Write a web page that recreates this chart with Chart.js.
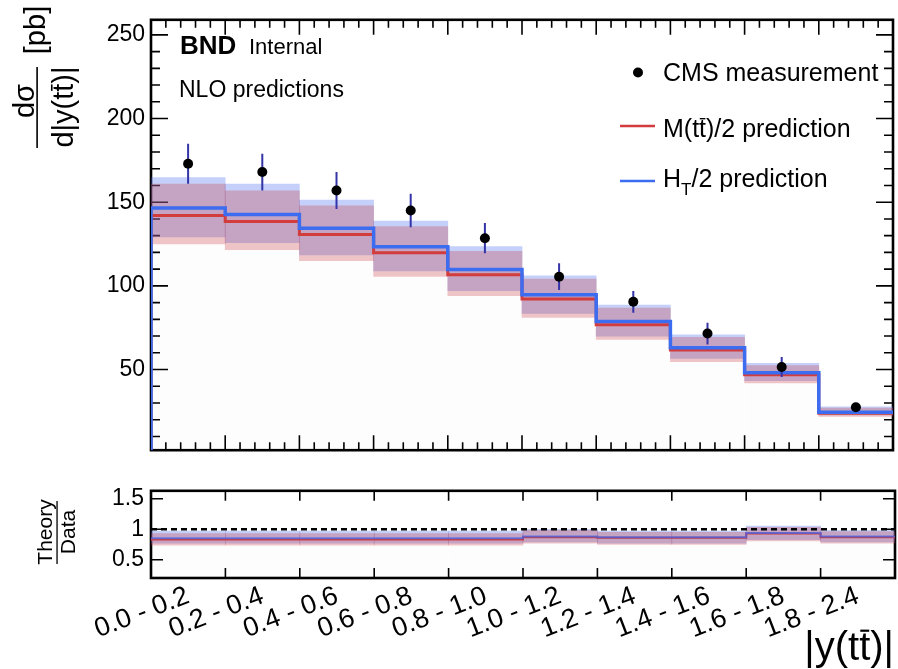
<!DOCTYPE html>
<html lang="en">
<head>
<meta charset="UTF-8">
<title>|y(tt)| differential cross section</title>
<script src="https://cdn.jsdelivr.net/npm/chart.js@4.4.0/dist/chart.umd.min.js"></script>
<style>
  html, body { margin: 0; padding: 0; background: #fff; }
  #wrap { position: relative; width: 898px; height: 669px; overflow: hidden; }
  #wrap canvas { position: absolute; left: 0; }
  #mainCanvas { top: 0; }
  #ratioCanvas { top: 470px; }
</style>
</head>
<body>
<div id="wrap">
  <canvas id="mainCanvas" width="898" height="470"></canvas>
  <canvas id="ratioCanvas" width="898" height="199"></canvas>
</div>
<script>
// |y(tt)| bins
const binLabels = ['0.0 - 0.2', '0.2 - 0.4', '0.4 - 0.6', '0.6 - 0.8', '0.8 - 1.0',
                   '1.0 - 1.2', '1.2 - 1.4', '1.4 - 1.6', '1.6 - 1.8', '1.8 - 2.4'];

// CMS measurement [pb]
const cmsValues = [173, 168, 157, 145, 128.5, 105.5, 90.5, 71.5, 51.5, 27.5];
const cmsErrors = [12, 11, 11, 10, 9, 8, 6.5, 6.5, 6, 2.5];

// NLO, scale M(tt)/2
const mttCentral = [142, 138.5, 130.7, 119.8, 106.7, 92.2, 76.7, 61.7, 46.9, 23.9];
const mttUp      = [160.9, 156.8, 147.9, 135.5, 120.7, 104.1, 86.8, 69.2, 52.4, 26.9];
const mttDown    = [125.1, 121.7, 115.1, 105.6, 94.1, 81.1, 68, 54.7, 42, 22];

// NLO, scale HT/2
const htCentral = [146.6, 142.6, 134.5, 123.4, 109.8, 94.7, 78.7, 63, 48.1, 24.5];
const htUp      = [164.7, 160.8, 151.3, 138.7, 123.5, 106, 88.5, 70.8, 53.7, 27.7];
const htDown    = [129.2, 125.8, 118.5, 109, 97.1, 83.5, 70, 56.6, 43.3, 22.9];

// theory / data
const ratioMtt     = [0.83, 0.83, 0.83, 0.83, 0.83, 0.87, 0.86, 0.86, 0.93, 0.87];
const ratioMttUp   = [0.93, 0.93, 0.93, 0.93, 0.93, 0.98, 0.95, 0.95, 1.03, 0.96];
const ratioMttDown = [0.74, 0.74, 0.74, 0.74, 0.74, 0.77, 0.75, 0.75, 0.81, 0.77];
const ratioHt      = [0.85, 0.85, 0.85, 0.85, 0.85, 0.88, 0.87, 0.87, 0.94, 0.88];
const ratioHtUp    = [0.97, 0.97, 0.97, 0.97, 0.97, 1.0, 0.97, 0.97, 1.05, 0.98];
const ratioHtDown  = [0.77, 0.77, 0.77, 0.77, 0.77, 0.79, 0.77, 0.77, 0.83, 0.79];

// axes
const mainTicks = [50, 100, 150, 200, 250];
const mainTickLabels = ['50', '100', '150', '200', '250'];
const ratioTicks = [0.5, 1, 1.5];
const ratioTickLabels = ['0.5', '1', '1.5'];
const mainMin = 1.8, mainMax = 259;
const ratioMin = 0.2, ratioMax = 1.63;
const unity = 1;

const FONT = "'Liberation Sans', Arial, Helvetica, sans-serif";
Chart.defaults.font.family = FONT;
Chart.defaults.color = '#000';

const RED = '#d23c3c';
const BLUE = '#3c6cf0';
const RED_BAND = 'rgba(200, 60, 70, 0.30)';
const BLUE_BAND = 'rgba(70, 110, 235, 0.32)';
const FILL = 'rgba(0, 0, 0, 0.007)';

function bandData(lo, hi) {
  return lo.map((v, i) => ({ x: i + 0.5, y: [v, hi[i]] }));
}
// histogram outline: one point per lower bin edge plus the closing edge
function stepData(vals, floor) {
  const pts = floor === undefined ? [] : [{ x: 0, y: floor }];
  vals.forEach((v, i) => pts.push({ x: i, y: v }));
  pts.push({ x: vals.length, y: vals[vals.length - 1] });
  return pts;
}
const centerTicks = s => { s.ticks = binLabels.map((_, i) => ({ value: i + 0.5 })); };

// text runs with overlines / subscripts
function rich(ctx, pieces, x, y, size, align) {
  const fontOf = p => `${p.bold ? 'bold ' : ''}${p.sub ? Math.round(size * 0.68) : size}px ${FONT}`;
  const ws = pieces.map(p => { ctx.font = fontOf(p); return ctx.measureText(p.t).width; });
  const total = ws.reduce((s, w) => s + w, 0);
  let cx = align === 'right' ? x - total : align === 'center' ? x - total / 2 : x;
  ctx.textAlign = 'left';
  ctx.textBaseline = 'alphabetic';
  pieces.forEach((p, i) => {
    ctx.font = fontOf(p);
    ctx.fillText(p.t, cx, y + (p.sub ? size * 0.3 : 0));
    if (p.bar) ctx.fillRect(cx + ws[i] * 0.1, y - size * 0.76, ws[i] * 0.8, Math.max(1.3, size * 0.055));
    cx += ws[i];
  });
}
function richRot(ctx, pieces, baseX, centerY, size) {
  ctx.save();
  ctx.translate(baseX, centerY);
  ctx.rotate(-Math.PI / 2);
  rich(ctx, pieces, 0, 0, size, 'center');
  ctx.restore();
}

// frame with inward ticks on all four sides
const frameTicks = {
  id: 'frameTicks',
  beforeDatasetsDraw(chart, args, o) {
    const { ctx, chartArea: a } = chart;
    const xs = chart.scales.x, ys = chart.scales.y;
    ctx.save();
    ctx.strokeStyle = '#000';
    ctx.lineWidth = 1.6;
    ctx.beginPath();
    const xMark = (v, len) => {
      const px = xs.getPixelForValue(v);
      ctx.moveTo(px, a.bottom); ctx.lineTo(px, a.bottom - len);
      ctx.moveTo(px, a.top); ctx.lineTo(px, a.top + len);
    };
    const yMark = (v, len) => {
      const py = ys.getPixelForValue(v);
      ctx.moveTo(a.left, py); ctx.lineTo(a.left + len, py);
      ctx.moveTo(a.right, py); ctx.lineTo(a.right - len, py);
    };
    for (let e = 0; e <= binLabels.length; e++) xMark(e, o.xMajorLen);
    if (o.xMinorLen) {
      for (let e = 0; e < binLabels.length; e++) for (let k = 1; k < 5; k++) xMark(e + k / 5, o.xMinorLen);
    }
    o.yMajor.forEach(v => yMark(v, o.yMajorLen));
    (o.yMinor || []).forEach(v => yMark(v, o.yMinorLen));
    ctx.stroke();
    ctx.lineWidth = 2.6;
    ctx.strokeRect(a.left, a.top, a.right - a.left, a.bottom - a.top);
    ctx.restore();
  }
};

// vertical uncertainty bars under the measurement markers
const errorBars = {
  id: 'errorBars',
  beforeDatasetDraw(chart, args) {
    if (chart.data.datasets[args.index].label !== 'CMS measurement') return;
    const { ctx } = chart;
    const xs = chart.scales.x, ys = chart.scales.y;
    ctx.save();
    ctx.strokeStyle = '#3434a8';
    ctx.lineWidth = 2;
    ctx.beginPath();
    cmsValues.forEach((v, i) => {
      const px = xs.getPixelForValue(i + 0.5);
      ctx.moveTo(px, ys.getPixelForValue(v - cmsErrors[i]));
      ctx.lineTo(px, ys.getPixelForValue(v + cmsErrors[i]));
    });
    ctx.stroke();
    ctx.restore();
  }
};

const mainText = {
  id: 'mainText',
  afterDraw(chart) {
    const ctx = chart.ctx;
    ctx.save();
    ctx.fillStyle = '#000';
    ctx.strokeStyle = '#000';
    rich(ctx, [{ t: 'BND', bold: true }], 180, 54, 26);
    rich(ctx, [{ t: 'Internal' }], 249, 54, 22);
    rich(ctx, [{ t: 'NLO predictions' }], 179, 97, 23);

    // legend
    ctx.beginPath();
    ctx.arc(638, 72.5, 5, 0, Math.PI * 2);
    ctx.fill();
    rich(ctx, [{ t: 'CMS measurement' }], 663, 81, 25);
    ctx.lineWidth = 2.5;
    ctx.strokeStyle = RED;
    ctx.beginPath(); ctx.moveTo(620, 126); ctx.lineTo(655, 126); ctx.stroke();
    ctx.strokeStyle = BLUE;
    ctx.beginPath(); ctx.moveTo(620, 181); ctx.lineTo(655, 181); ctx.stroke();
    rich(ctx, [{ t: 'M(t' }, { t: 't', bar: true }, { t: ')/2 prediction' }], 663, 137, 25);
    rich(ctx, [{ t: 'H' }, { t: 'T', sub: true }, { t: '/2 prediction' }], 663, 187, 25);

    // y title: dsigma / d|y(tt)| [pb]
    richRot(ctx, [{ t: 'dσ' }], 34, 101, 29);
    ctx.fillRect(36.3, 67, 1.6, 81);
    richRot(ctx, [{ t: 'd|y(t' }, { t: 't', bar: true }, { t: ')|' }], 73, 107, 29);
    richRot(ctx, [{ t: '[pb]' }], 45, 30, 29);
    ctx.restore();
  }
};

const ratioText = {
  id: 'ratioText',
  afterDraw(chart) {
    const ctx = chart.ctx;
    ctx.save();
    ctx.fillStyle = '#000';
    richRot(ctx, [{ t: 'Theory' }], 52, 62, 21);
    ctx.fillRect(56.4, 31, 1.3, 63);
    richRot(ctx, [{ t: 'Data' }], 75, 62, 21);
    rich(ctx, [{ t: '|y(t' }, { t: 't', bar: true }, { t: ')|' }], 894, 190, 40, 'right');
    ctx.restore();
  }
};

const barBase = { grouped: false, barPercentage: 1, categoryPercentage: 1 };

new Chart(document.getElementById('mainCanvas'), {
  data: {
    datasets: [
      { ...barBase, type: 'bar', label: 'fill', data: bandData(binLabels.map(() => mainMin), mttDown),
        backgroundColor: FILL, order: 6 },
      { ...barBase, type: 'bar', label: 'HT band', data: bandData(htDown, htUp),
        backgroundColor: BLUE_BAND, order: 5 },
      { ...barBase, type: 'bar', label: 'Mtt band', data: bandData(mttDown, mttUp),
        backgroundColor: RED_BAND, order: 4 },
      { type: 'line', label: 'M(tt)/2 prediction', data: stepData(mttCentral, mainMin), stepped: true,
        borderColor: RED, borderWidth: 3, pointRadius: 0, fill: false, order: 3 },
      { type: 'line', label: 'HT/2 prediction', data: stepData(htCentral, mainMin), stepped: true,
        borderColor: BLUE, borderWidth: 3.5, pointRadius: 0, fill: false, order: 2 },
      { type: 'scatter', label: 'CMS measurement', data: cmsValues.map((v, i) => ({ x: i + 0.5, y: v })),
        backgroundColor: '#000', borderWidth: 0, pointRadius: 5, order: 1 }
    ]
  },
  options: {
    responsive: false,
    animation: false,
    layout: { padding: { left: 0, top: 11, right: 3, bottom: 5 } },
    scales: {
      x: { type: 'linear', min: 0, max: binLabels.length, offset: false, display: false,
           afterBuildTicks: centerTicks },
      y: {
        type: 'linear', min: mainMin, max: mainMax,
        afterBuildTicks: s => { s.ticks = mainTicks.map(v => ({ value: v })); },
        afterFit: s => { s.width = 151; },
        ticks: { callback: (v, i) => mainTickLabels[i], font: { size: 23 }, color: '#000', padding: 6 },
        grid: { display: false, drawTicks: false },
        border: { display: false }
      }
    },
    plugins: {
      legend: { display: false },
      tooltip: { enabled: false },
      frameTicks: {
        xMajorLen: 15, xMinorLen: 8, yMajorLen: 17, yMinorLen: 9,
        yMajor: mainTicks,
        yMinor: Array.from({ length: 25 }, (_, k) => 10 * (k + 1)).filter(v => v % 50 !== 0)
      }
    }
  },
  plugins: [frameTicks, errorBars, mainText]
});

new Chart(document.getElementById('ratioCanvas'), {
  data: {
    datasets: [
      { ...barBase, type: 'bar', label: 'fill', data: bandData(binLabels.map(() => ratioMin), ratioMttDown),
        backgroundColor: FILL, order: 7 },
      { ...barBase, type: 'bar', label: 'HT band', data: bandData(ratioHtDown, ratioHtUp),
        backgroundColor: BLUE_BAND, order: 6 },
      { ...barBase, type: 'bar', label: 'Mtt band', data: bandData(ratioMttDown, ratioMttUp),
        backgroundColor: RED_BAND, order: 5 },
      { type: 'line', label: 'unity', data: [{ x: 0, y: unity }, { x: binLabels.length, y: unity }],
        borderColor: '#000', borderWidth: 2.6, borderDash: [6, 4], pointRadius: 0, fill: false, order: 4 },
      { type: 'line', label: 'M(tt)/2 ratio', data: stepData(ratioMtt), stepped: true,
        borderColor: RED, borderWidth: 2, pointRadius: 0, fill: false, order: 3 },
      { type: 'line', label: 'HT/2 ratio', data: stepData(ratioHt), stepped: true,
        borderColor: 'rgba(60, 100, 240, 0.7)', borderWidth: 2, pointRadius: 0, fill: false, order: 2 }
    ]
  },
  options: {
    responsive: false,
    animation: false,
    layout: { padding: { left: 0, top: 18, right: 3, bottom: 0 } },
    scales: {
      x: {
        type: 'linear', min: 0, max: binLabels.length, offset: false,
        afterBuildTicks: centerTicks,
        afterFit: s => { s.height = 91; },
        ticks: { callback: (v, i) => binLabels[i], autoSkip: false, minRotation: 21, maxRotation: 21,
                 font: { size: 27 }, color: '#000', padding: 2 },
        grid: { display: false, drawTicks: false },
        border: { display: false }
      },
      y: {
        type: 'linear', min: ratioMin, max: ratioMax,
        afterBuildTicks: s => { s.ticks = ratioTicks.map(v => ({ value: v })); },
        afterFit: s => { s.width = 151; },
        ticks: { callback: (v, i) => ratioTickLabels[i], font: { size: 23 }, color: '#000', padding: 7 },
        grid: { display: false, drawTicks: false },
        border: { display: false }
      }
    },
    plugins: {
      legend: { display: false },
      tooltip: { enabled: false },
      frameTicks: { xMajorLen: 10, xMinorLen: 0, yMajorLen: 12, yMajor: ratioTicks }
    }
  },
  plugins: [frameTicks, ratioText]
});
</script>
</body>
</html>
